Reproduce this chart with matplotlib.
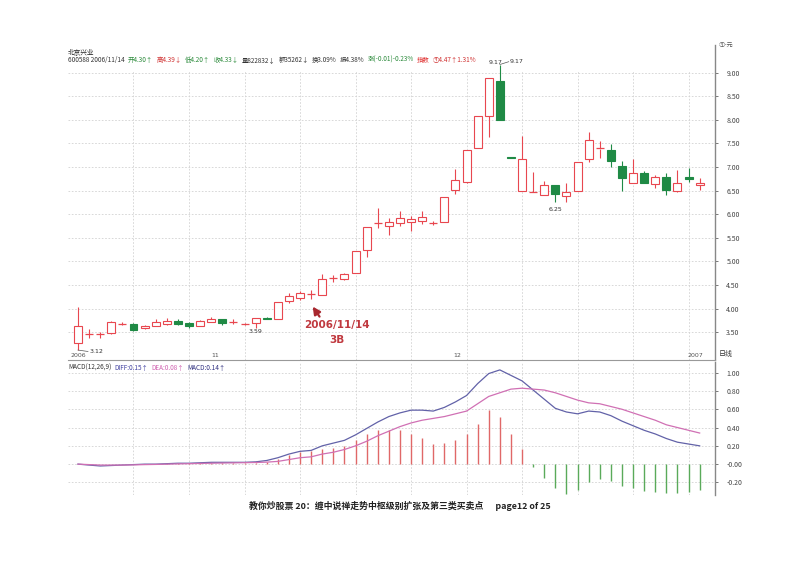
import numpy as np
import matplotlib
matplotlib.use("Agg")
import matplotlib.pyplot as plt

plt.rcParams['font.family'] = ['Noto Sans CJK SC', 'DejaVu Sans']

# weekly candles (open, high, low, close)
opens = [3.27, 3.46, 3.46, 3.48, 3.68, 3.67, 3.58, 3.64, 3.68, 3.74,
         3.70, 3.64, 3.72, 3.77, 3.72, 3.68, 3.69, 3.79, 3.77, 4.16,
         4.22, 4.30, 4.29, 4.64, 4.62, 4.76, 5.23, 5.81, 5.75, 5.81,
         5.84, 5.86, 5.81, 5.83, 6.52, 6.69, 7.40, 8.09, 8.83, 7.21,
         6.48, 6.46, 6.41, 6.62, 6.39, 6.48, 7.17, 7.39, 7.35, 7.01,
         6.66, 6.87, 6.64, 6.78, 6.48, 6.78, 6.61]
highs = [4.04, 3.56, 3.50, 3.73, 3.72, 3.70, 3.66, 3.78, 3.80, 3.77,
         3.71, 3.75, 3.83, 3.78, 3.77, 3.70, 3.81, 3.82, 4.13, 4.32,
         4.37, 4.39, 4.73, 4.71, 4.76, 5.21, 5.72, 6.13, 5.92, 6.06,
         5.96, 6.06, 5.85, 6.36, 6.96, 7.35, 8.07, 8.89, 9.17, 7.21,
         7.66, 6.90, 6.71, 6.62, 6.66, 7.11, 7.75, 7.54, 7.49, 7.12,
         7.17, 6.92, 6.84, 6.88, 6.94, 6.98, 6.76]
lows = [3.12, 3.37, 3.38, 3.47, 3.65, 3.52, 3.57, 3.63, 3.66, 3.65,
        3.58, 3.63, 3.71, 3.65, 3.68, 3.66, 3.59, 3.77, 3.77, 4.12,
        4.18, 4.20, 4.29, 4.57, 4.60, 4.76, 5.10, 5.70, 5.56, 5.74,
        5.65, 5.80, 5.76, 5.83, 6.42, 6.66, 7.40, 7.63, 8.00, 7.20,
        6.48, 6.46, 6.41, 6.25, 6.25, 6.48, 7.10, 7.19, 7.00, 6.48,
        6.66, 6.67, 6.55, 6.40, 6.46, 6.68, 6.52]
closes = [3.63, 3.46, 3.47, 3.71, 3.68, 3.54, 3.64, 3.72, 3.74, 3.67,
          3.64, 3.74, 3.78, 3.70, 3.72, 3.68, 3.81, 3.77, 4.13, 4.27,
          4.32, 4.31, 4.63, 4.65, 4.74, 5.21, 5.72, 5.82, 5.83, 5.91,
          5.90, 5.95, 5.82, 6.36, 6.73, 7.35, 8.07, 8.89, 8.00, 7.20,
          7.17, 6.47, 6.62, 6.42, 6.46, 7.11, 7.58, 7.40, 7.13, 6.76,
          6.88, 6.67, 6.79, 6.52, 6.66, 6.74, 6.66]

diff = [0.00, -0.01, -0.02, -0.015, -0.01, -0.005, 0.0, 0.0, 0.005, 0.01,
        0.01, 0.015, 0.02, 0.02, 0.02, 0.02, 0.025, 0.04, 0.07, 0.11,
        0.14, 0.15, 0.20, 0.23, 0.26, 0.32, 0.39, 0.46, 0.52, 0.56,
        0.59, 0.59, 0.58, 0.62, 0.68, 0.75, 0.88, 0.99, 1.03, 0.97,
        0.91, 0.81, 0.71, 0.61, 0.57, 0.55, 0.58, 0.57, 0.53, 0.47,
        0.42, 0.37, 0.33, 0.28, 0.24, 0.22, 0.20]
dea = [0.00, -0.005, -0.01, -0.01, -0.01, -0.008, -0.005, -0.003, 0.0, 0.003,
       0.005, 0.008, 0.01, 0.012, 0.014, 0.016, 0.018, 0.022, 0.03, 0.05,
       0.07, 0.08, 0.11, 0.13, 0.16, 0.20, 0.25, 0.31, 0.36, 0.41,
       0.45, 0.48, 0.50, 0.52, 0.55, 0.58, 0.66, 0.74, 0.78, 0.82,
       0.83, 0.82, 0.81, 0.78, 0.74, 0.70, 0.67, 0.66, 0.63, 0.60,
       0.56, 0.52, 0.48, 0.43, 0.40, 0.37, 0.34]
macd = [0, 0, 0, 0, 0, 0, 0, 0, 0.01, 0.012,
        0.012, 0.012, 0.015, 0.015, 0.012, 0.01, 0.012, 0.02, 0.055, 0.10,
        0.13, 0.14, 0.17, 0.18, 0.20, 0.26, 0.33, 0.37, 0.37, 0.37,
        0.33, 0.29, 0.22, 0.23, 0.26, 0.33, 0.44, 0.59, 0.51, 0.33,
        0.17, -0.03, -0.15, -0.26, -0.33, -0.28, -0.20, -0.16, -0.18, -0.24,
        -0.26, -0.29, -0.30, -0.32, -0.32, -0.30, -0.28]

month_pos = [0, 12.4, 34.2, 55.6]
month_labels = ['2006', '11', '12', '2007']
price_ticks = [3.5, 4.0, 4.5, 5.0, 5.5, 6.0, 6.5, 7.0, 7.5, 8.0, 8.5, 9.0]
macd_ticks = [1.0, 0.8, 0.6, 0.4, 0.2, 0.0, -0.2]
macd_tick_labels = ['1.00', '0.80', '0.60', '0.40', '0.20', '-0.00', '-0.20']

RED = '#e8474f'
GREEN = '#1f8a45'
GRID = '#d2d2d2'

x = np.arange(len(opens))
fig = plt.figure(figsize=(8, 5.66), dpi=100)
ax = fig.add_axes([0.085, 0.364, 0.809, 0.557])
ax2 = fig.add_axes([0.085, 0.125, 0.809, 0.236])

xlim = (-0.9, 57.4)
for a in (ax, ax2):
    a.set_xlim(*xlim)
    a.set_xticks([])
    for s in ('left', 'top'):
        a.spines[s].set_visible(False)
    a.spines['right'].set_color('#888888')
    a.spines['bottom'].set_color('#999999')
    a.spines['right'].set_linewidth(1.0)
    a.spines['bottom'].set_linewidth(0.8)
    a.yaxis.tick_right()
    a.tick_params(axis='y', direction='out', length=2, width=0.5,
                  labelsize=5, colors='#444444', pad=6)

ax.set_ylim(2.91, 9.59)
ax.set_yticks(price_ticks)
ax.set_yticklabels(['%.2f' % t for t in price_ticks])
for t in price_ticks:
    ax.axhline(t, color=GRID, lw=0.6, ls=(0, (2, 2)), zorder=0)
for xv in range(5, 57, 5):
    ax.vlines(xv, 2.91, 9.06, color=GRID, lw=0.6, ls=(0, (2, 2)), zorder=0)
    ax2.axvline(xv, color=GRID, lw=0.6, ls=(0, (2, 2)), zorder=0)

# candles
w = 0.72
for i in range(len(opens)):
    o, h, l, c = opens[i], highs[i], lows[i], closes[i]
    col = GREEN if c < o else RED
    lo, hi = min(o, c), max(o, c)
    ax.vlines(x[i], l, lo, color=col, lw=0.8, zorder=2)
    ax.vlines(x[i], hi, h, color=col, lw=0.8, zorder=2)
    if c < o:
        ax.bar(x[i], hi - lo, bottom=lo, width=w, color=GREEN,
               edgecolor=GREEN, lw=0.8, zorder=3)
    elif hi - lo < 0.02:
        ax.hlines((o + c) / 2, x[i] - w / 2, x[i] + w / 2, color=RED, lw=0.9, zorder=3)
    else:
        ax.bar(x[i], hi - lo, bottom=lo, width=w, facecolor='white',
               edgecolor=RED, lw=0.8, zorder=3)

# price labels
lab = dict(fontsize=4.5, color='#333333', family='DejaVu Sans')
ax.plot([0, 0.9], [lows[0], lows[0] - 0.03], color='#555555', lw=0.5)
ax.text(1.0, lows[0] - 0.03, '3.12', va='center', ha='left', **lab)
ax.text(16, lows[16] - 0.08, '3.59', va='center', ha='center', **lab)
ax.text(43, lows[43] - 0.15, '6.25', va='center', ha='center', **lab)
ax.text(37.6, highs[38] - 0.02, '9.17', va='bottom', ha='center', **lab)
ax.plot([38, 38.8], [highs[38], highs[38] + 0.06], color='#555555', lw=0.5)
ax.text(38.9, highs[38] + 0.06, '9.17', va='center', ha='left', **lab)

# annotation
ax.annotate('', xy=(21.0, 4.09), xytext=(21.9, 3.78),
            arrowprops=dict(arrowstyle='-|>', color='#a8282f', lw=1.6,
                            mutation_scale=11))
ax.text(23.3, 3.66, '2006/11/14', color='#c0393f', fontsize=7.5,
        fontweight='bold', ha='center', va='center', family='DejaVu Sans')
ax.text(23.3, 3.33, '3B', color='#c0393f', fontsize=7.5,
        fontweight='bold', ha='center', va='center', family='DejaVu Sans')

for p, s in zip(month_pos, month_labels):
    ax.text(p, 2.95, s, fontsize=4.5, color='#555555', ha='center', va='bottom',
            family='DejaVu Sans')
ax.text(1.005, 0.005, '日线', transform=ax.transAxes, fontsize=5, color='#333333',
        ha='left', va='bottom')
ax.text(1.005, 1.0, '①-元', transform=ax.transAxes, fontsize=4.5, color='#555555',
        ha='left', va='center')

# MACD panel
ax2.set_ylim(-0.34, 1.12)
ax2.set_yticks(macd_ticks)
ax2.set_yticklabels(macd_tick_labels)
for t in macd_ticks:
    ax2.axhline(t, color=GRID, lw=0.6, ls=(0, (2, 2)), zorder=0)
ax2.spines['bottom'].set_visible(False)
for i in range(len(macd)):
    if macd[i] != 0:
        ax2.vlines(x[i], 0, macd[i], color='#e06868' if macd[i] > 0 else '#5aaa5a',
                   lw=1.0, zorder=2)
ax2.plot(x, diff, color='#6262a8', lw=0.9, zorder=3)
ax2.plot(x, dea, color='#d070b4', lw=0.9, zorder=3)

# header texts
fig.canvas.draw()
r = fig.canvas.get_renderer()


def chain(x0, y0, parts, size=4.6):
    xp = x0
    for s, col in parts:
        t = fig.text(xp, y0, s, fontsize=size, color=col, ha='left', va='center')
        bb = t.get_window_extent(renderer=r)
        xp += bb.width / fig.bbox.width + 0.004


fig.text(0.085, 1 - 53 / 566, '北京兴业', fontsize=4.8, color='#222222', va='center')
chain(0.085, 1 - 60 / 566, [
    ('600588 2006/11/14', '#333333'), ('开4.30↑', '#2a8a3a'), ('高4.39↓', '#d03030'),
    ('低4.20↑', '#2a8a3a'), ('收4.33↓', '#2a8a3a'), ('量822832↓', '#333333'),
    ('额35262↓', '#333333'), ('换3.09%', '#333333'), ('振4.38%', '#333333'),
    ('涨(-0.01)-0.23%', '#2a8a3a'), ('指数', '#e03030'), ('①4.47↑1.31%', '#d03030')])
chain(0.085, 1 - 368 / 566, [
    ('MACD(12,26,9)', '#333333'), ('DIFF:0.15↑', '#4040a0'),
    ('DEA:0.08↑', '#d060b0'), ('MACD:0.14↑', '#303080')])

fig.text(0.5, 1 - 506 / 566,
         '教你炒股票 20：缠中说禅走势中枢级别扩张及第三类买卖点      page12 of 25',
         fontsize=6.4, fontweight='bold', color='#222222', ha='center', va='center')

fig.savefig('out.png', dpi=100)
